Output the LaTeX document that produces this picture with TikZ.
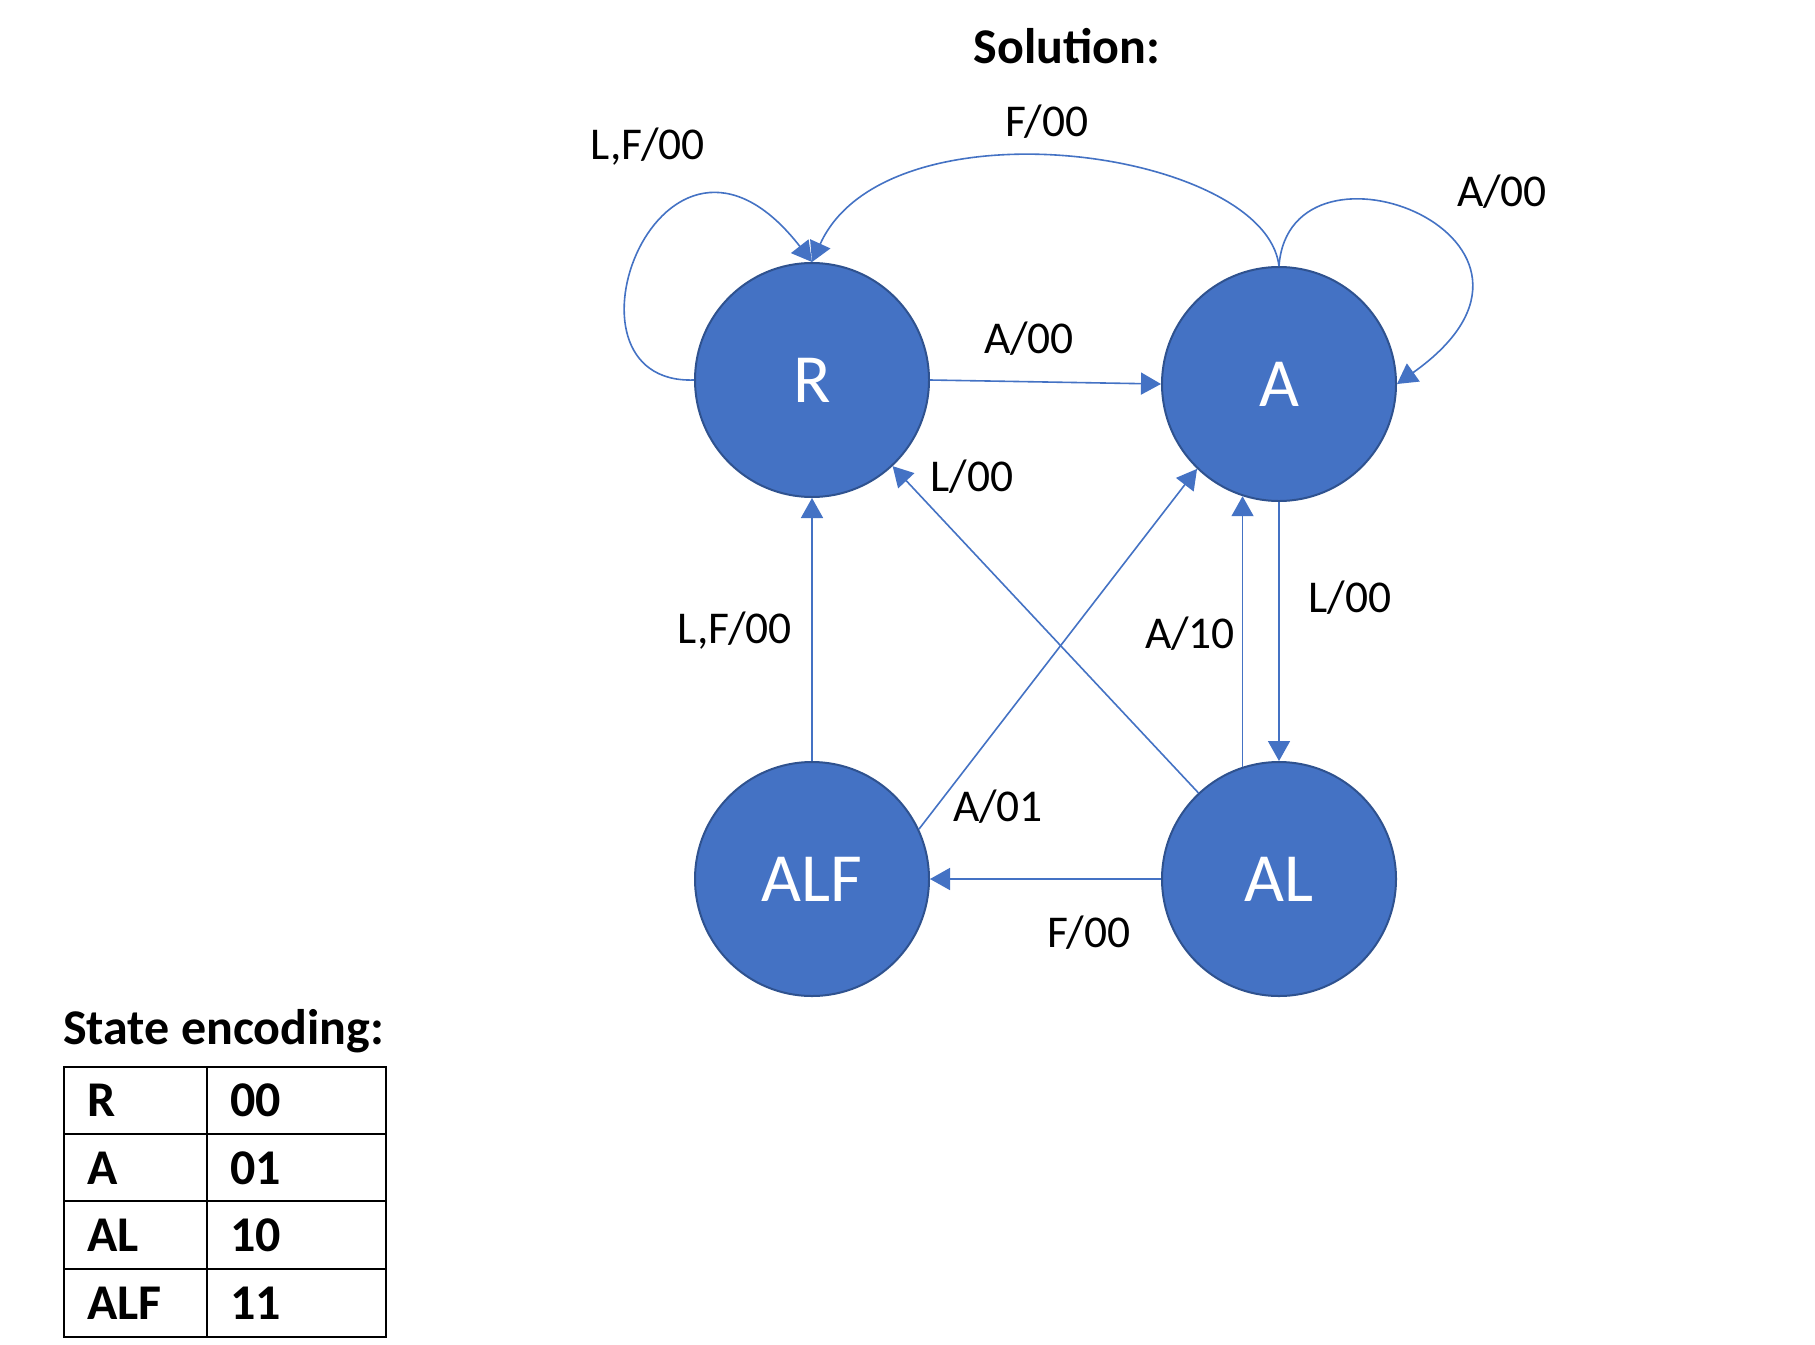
\documentclass[tikz,border=0pt]{standalone}
\usepackage{fontspec}
\setmainfont{Carlito}
\usetikzlibrary{arrows.meta}
\definecolor{fsmblue}{HTML}{4472C4}
\definecolor{fsmrim}{HTML}{2F528F}
\tikzset{
	fsmstate/.style={circle, fill=fsmblue, draw=fsmrim, line width=2pt, minimum size=234pt, inner sep=0pt, text=white, font=\fontsize{69}{80}\selectfont},
	fsmedge/.style={draw=fsmblue, line width=1.6pt, -{Triangle[length=20pt,width=22pt]}},
	fsmlabel/.style={font=\fontsize{45.5}{54}\selectfont, inner sep=0pt},
	fsmhead/.style={font=\fontsize{50}{60}\selectfont\bfseries, inner sep=0pt},
}

\begin{document}
\begin{tikzpicture}[x=1pt, y=-1pt]
			%%%%% START %%%%%
			\useasboundingbox[fill=white] (0, 0) rectangle (1815, 1344);
			
			\node[fsmhead] (solution) at (1067, 46) {Solution:};
			
			% states
			\node[fsmstate] (R) at (812, 380) {R};
			\node[fsmstate] (A) at (1279, 384) {A};
			\node[fsmstate] (ALF) at (812, 879) {ALF};
			\node[fsmstate] (AL) at (1279, 879) {AL};
			
			% self loops
			\draw[fsmedge] (R.west) .. controls +(-150, 5) and +(-150, -193) .. (R.north);
			\draw[fsmedge] (A.north) .. controls +(11, -147) and +(203, -144) .. (A.east);
			
			% transitions
			\draw[fsmedge] (A.north) .. controls +(-14, -117) and +(75, -165) .. (R.north);
			\draw[fsmedge] (R.east) -- (A.west);
			\draw[fsmedge] (AL) -- (R);
			\draw[fsmedge] (ALF.25) -- (A.226);
			\draw[fsmedge] (ALF.north) -- (R.south);
			\draw[fsmedge] (AL.108) -- (A.252);
			\draw[fsmedge] (A.south) -- (AL.north);
			\draw[fsmedge] (AL.west) -- (ALF.east);
			
			% labels
			\node[fsmlabel] (lblRR) at (648, 147) {L,F/00};
			\node[fsmlabel] (lblAR) at (1047, 122) {F/00};
			\node[fsmlabel] (lblAA) at (1502, 192) {A/00};
			\node[fsmlabel] (lblRA) at (1029, 339) {A/00};
			\node[fsmlabel] (lblALR) at (972, 477) {L/00};
			\node[fsmlabel] (lblALFR) at (735, 631) {L,F/00};
			\node[fsmlabel] (lblALA) at (1190, 634) {A/10};
			\node[fsmlabel] (lblAAL) at (1350, 598) {L/00};
			\node[fsmlabel] (lblALFA) at (998, 807) {A/01};
			\node[fsmlabel] (lblALALF) at (1089, 933) {F/00};
			
			% state encoding table
			\node[fsmhead, anchor=west] (enctitle) at (63, 1031) {State encoding:};
			\draw[line width=1.4pt] (64, 1067) rectangle (386, 1337);
			\foreach \y in {1134, 1201, 1269}
				\draw[line width=1.4pt] (64, \y) -- (386, \y);
			\draw[line width=1.4pt] (207, 1067) -- (207, 1337);
			\foreach \name/\code [count=\i] in {R/00, A/01, AL/10, ALF/11} {
				\node[fsmhead, anchor=west] (encname\i) at (87, {1100.5+67.5*(\i-1)}) {\name};
				\node[fsmhead, anchor=west] (enccode\i) at (230, {1100.5+67.5*(\i-1)}) {\code};
			}
			
			%%%%% END %%%%%
		\end{tikzpicture}
\end{document}
